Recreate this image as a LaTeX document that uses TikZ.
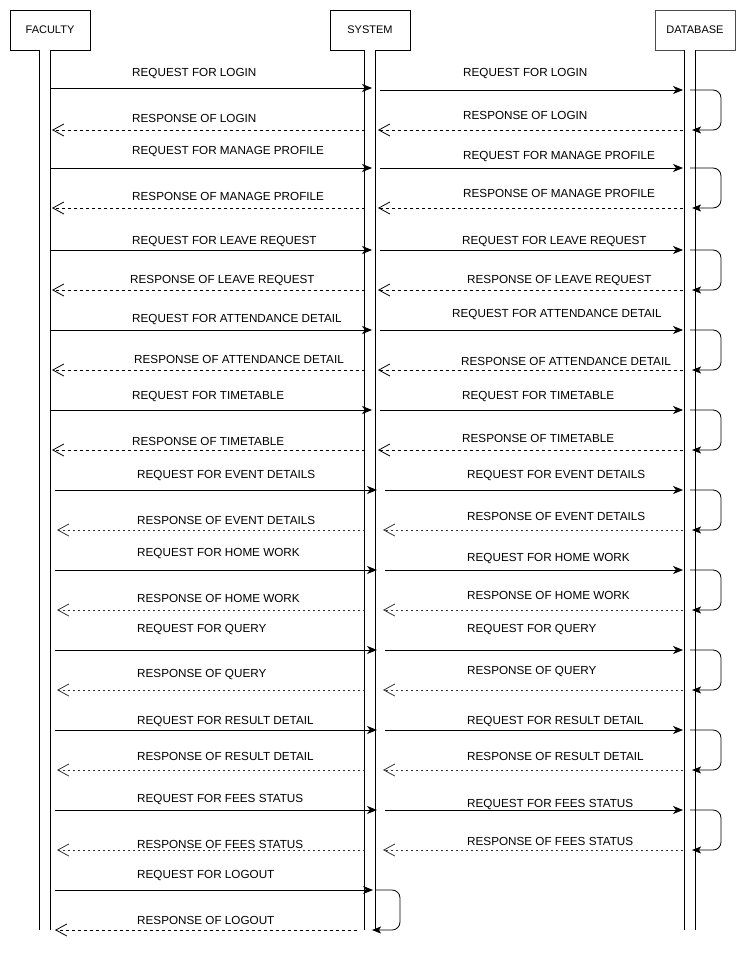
\documentclass[tikz,border=0pt]{standalone}
\usepackage{fontspec}
\setmainfont{Liberation Sans}
\usetikzlibrary{arrows.meta}
\begin{document}
\begin{tikzpicture}[x=1pt,y=-1pt,
  actor/.style={draw,line width=0.8pt,fill=white,minimum width=80pt,minimum height=40pt,inner sep=0pt,font=\fontsize{11}{13}\selectfont},
  bar/.style={fill=white,minimum width=10pt,minimum height=880pt,inner sep=0pt},
  barline/.style={line width=0.8pt},
  lbl/.style={anchor=west,inner sep=0pt,yshift=-1.5pt,font=\fontsize{11.7}{14}\selectfont},
  req/.style={line width=0.8pt,-{Stealth[length=10pt,width=8pt,inset=3pt]}},
  resp/.style={line width=0.8pt,dash pattern=on 3pt off 3pt,-{Straight Barb[length=11pt,width=12pt]}},
  respb/.style={line width=0.8pt,dash pattern=on 2.5pt off 2.5pt,draw=black!80,-{Straight Barb[length=11pt,width=12pt]}},
  loopa/.style={line width=0.8pt,rounded corners=8pt,-{Stealth[length=9pt,width=7pt,inset=2pt]}}
]
\useasboundingbox (0,0) rectangle (746,955);
% actors
\node[actor] (fac) at (50,30) {FACULTY};
\node[actor] (sys) at (370,30) {SYSTEM};
\node[actor,draw=black!70] (db) at (695,30) {DATABASE};
% activation bars (open at the bottom)
\node[bar] (fbar) at (45,490) {};
\node[bar] (sbar) at (370,490) {};
\node[bar] (dbar) at (690,490) {};
\foreach \b in {fbar,sbar,dbar}{
  \draw[barline] (\b.north west) -- (\b.south west);
  \draw[barline] (\b.north east) -- (\b.south east);
}

% #1 id, #2 req y left, #3 req y right, #4 resp y, #5 offset
\newcommand\seqrow[5]{%
  \coordinate (fq#1) at ({50+#5},#2);
  \coordinate (sq#1) at ({372+#5},#2);
  \coordinate (sr#1) at ({380+#5},#3);
  \coordinate (dq#1) at (683,#3);
  \coordinate (ls#1) at (690,#3);
  \coordinate (lc#1) at (721,#3);
  \coordinate (ld#1) at (721,#4);
  \coordinate (le#1) at (692,#4);
  \coordinate (dr#1) at (683,#4);
  \coordinate (st#1) at ({378+#5},#4);
  \coordinate (sl#1) at (365,#4);
  \coordinate (ft#1) at ({52+#5},#4);
  \draw[req] (fq#1) -- (sq#1);
  \draw[req] (sr#1) -- (dq#1);
  \draw[loopa] (ls#1) -- (lc#1) -- (ld#1) -- (le#1);
}
\seqrow{1}{88}{90}{130}{0}
\seqrow{2}{168}{168}{208}{0}
\seqrow{3}{250}{250}{290}{0}
\seqrow{4}{330}{330}{370}{0}
\seqrow{5}{410}{410}{450}{0}
\seqrow{6}{490}{490}{530}{5}
\seqrow{7}{570}{570}{610}{5}
\seqrow{8}{650}{650}{690}{5}
\seqrow{9}{730}{730}{770}{5}
\seqrow{10}{810}{810}{850}{5}
\foreach \i in {1,...,5}{
  \draw[resp] (dr\i) -- (st\i);
  \draw[resp] (sl\i) -- (ft\i);
}
\foreach \i in {6,...,10}{
  \draw[respb] (dr\i) -- (st\i);
  \draw[respb] (sl\i) -- (ft\i);
}
% logout row
\coordinate (fq11) at (55,890);
\coordinate (sq11) at (373,890);
\coordinate (ls11) at (375,890);
\coordinate (lc11) at (400,890);
\coordinate (ld11) at (400,930);
\coordinate (le11) at (372,930);
\coordinate (sl11) at (357,930);
\coordinate (ft11) at (55,930);
\draw[req] (fq11) -- (sq11);
\draw[loopa] (ls11) -- (lc11) -- (ld11) -- (le11);
\draw[resp] (sl11) -- (ft11);

% left labels
\node[lbl] (l1q) at (132,72) {REQUEST FOR LOGIN};
\node[lbl] (l2q) at (132,150) {REQUEST FOR MANAGE PROFILE};
\node[lbl] (l3q) at (132,240) {REQUEST FOR LEAVE REQUEST};
\node[lbl] (l4q) at (132,318) {REQUEST FOR ATTENDANCE DETAIL};
\node[lbl] (l5q) at (132,395) {REQUEST FOR TIMETABLE};
\node[lbl] (l6q) at (137,474) {REQUEST FOR EVENT DETAILS};
\node[lbl] (l7q) at (137,552) {REQUEST FOR HOME WORK};
\node[lbl] (l8q) at (137,628) {REQUEST FOR QUERY};
\node[lbl] (l9q) at (137,720) {REQUEST FOR RESULT DETAIL};
\node[lbl] (l10q) at (137,798) {REQUEST FOR FEES STATUS};
\node[lbl] (l11q) at (137,874) {REQUEST FOR LOGOUT};
\node[lbl] (l1r) at (132,117) {RESPONSE OF LOGIN};
\node[lbl] (l2r) at (132,195) {RESPONSE OF MANAGE PROFILE};
\node[lbl] (l3r) at (130,279) {RESPONSE OF LEAVE REQUEST};
\node[lbl] (l4r) at (134,358) {RESPONSE OF ATTENDANCE DETAIL};
\node[lbl] (l5r) at (132,440) {RESPONSE OF TIMETABLE};
\node[lbl] (l6r) at (137,519) {RESPONSE OF EVENT DETAILS};
\node[lbl] (l7r) at (137,597) {RESPONSE OF HOME WORK};
\node[lbl] (l8r) at (137,673) {RESPONSE OF QUERY};
\node[lbl] (l9r) at (137,755) {RESPONSE OF RESULT DETAIL};
\node[lbl] (l10r) at (137,843) {RESPONSE OF FEES STATUS};
\node[lbl] (l11r) at (137,919) {RESPONSE OF LOGOUT};
% right labels
\node[lbl] (r1q) at (463,72) {REQUEST FOR LOGIN};
\node[lbl] (r2q) at (463,155) {REQUEST FOR MANAGE PROFILE};
\node[lbl] (r3q) at (462,240) {REQUEST FOR LEAVE REQUEST};
\node[lbl] (r4q) at (452,313) {REQUEST FOR ATTENDANCE DETAIL};
\node[lbl] (r5q) at (462,395) {REQUEST FOR TIMETABLE};
\node[lbl] (r6q) at (467,474) {REQUEST FOR EVENT DETAILS};
\node[lbl] (r7q) at (467,557) {REQUEST FOR HOME WORK};
\node[lbl] (r8q) at (467,628) {REQUEST FOR QUERY};
\node[lbl] (r9q) at (467,720) {REQUEST FOR RESULT DETAIL};
\node[lbl] (r10q) at (467,803) {REQUEST FOR FEES STATUS};
\node[lbl] (r1r) at (463,114) {RESPONSE OF LOGIN};
\node[lbl] (r2r) at (463,192) {RESPONSE OF MANAGE PROFILE};
\node[lbl] (r3r) at (467,279) {RESPONSE OF LEAVE REQUEST};
\node[lbl] (r4r) at (461,360) {RESPONSE OF ATTENDANCE DETAIL};
\node[lbl] (r5r) at (462,437) {RESPONSE OF TIMETABLE};
\node[lbl] (r6r) at (467,515) {RESPONSE OF EVENT DETAILS};
\node[lbl] (r7r) at (467,594) {RESPONSE OF HOME WORK};
\node[lbl] (r8r) at (467,670) {RESPONSE OF QUERY};
\node[lbl] (r9r) at (467,755) {RESPONSE OF RESULT DETAIL};
\node[lbl] (r10r) at (467,840) {RESPONSE OF FEES STATUS};
\end{tikzpicture}
\end{document}
